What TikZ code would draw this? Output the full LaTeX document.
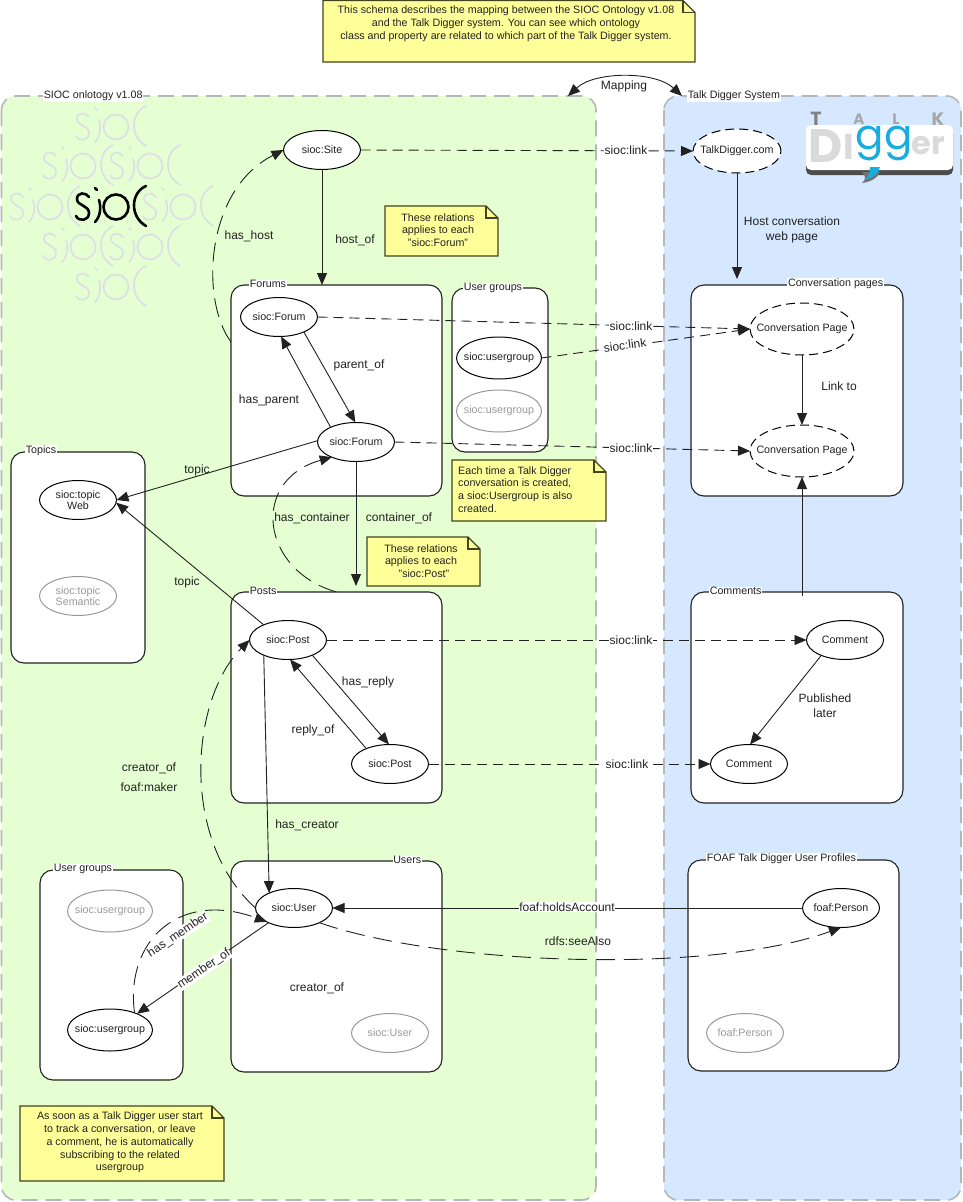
\documentclass[tikz,border=0pt]{standalone}
\usepackage{fontspec}
\setmainfont{Liberation Sans}
\newfontfamily\logofont{Poppins}
\usetikzlibrary{arrows.meta,shapes.geometric,calc}
\definecolor{panelgreen}{HTML}{E6FFD2}
\definecolor{panelblue}{HTML}{D5E8FF}
\definecolor{panelline}{HTML}{B4B8B8}
\definecolor{notefill}{HTML}{FFFF99}
\definecolor{ink}{HTML}{222222}
\definecolor{faint}{HTML}{999999}
\definecolor{markgray}{HTML}{DEDFE6}
\definecolor{loggray}{HTML}{DADADA}
\definecolor{logblue}{HTML}{19ACDF}
\tikzset{
  x=1pt,y=-1pt,
  panel/.style={draw=panelline,line width=1.6pt,dash pattern=on 16pt off 8pt,rounded corners=14pt},
  grp/.style={rectangle,draw=ink,line width=1.1pt,fill=white,rounded corners=13pt,inner sep=0pt,outer sep=0pt},
  title/.style={font=\fontsize{10.7pt}{12pt}\selectfont,text=ink,fill=white,inner sep=0.6pt},
  ell/.style={ellipse,draw=black,line width=1pt,fill=white,inner sep=-30pt,outer sep=0pt,
    minimum width=77pt,minimum height=39pt,font=\fontsize{10.7pt}{12pt}\selectfont,text=ink,align=center},
  ellwide/.style={ell,minimum width=85pt,minimum height=42pt},
  ellgray/.style={draw=faint,text=faint},
  ellbig/.style={dash pattern=on 9pt off 5pt},
  lbl/.style={font=\fontsize{12pt}{15pt}\selectfont,text=ink,inner sep=0.5pt,align=center},
  lblw/.style={lbl,fill=white},
  conn/.style={draw=ink,line width=0.9pt,-{Triangle[length=12pt,width=10pt]}},
  dconn/.style={conn,dash pattern=on 10pt off 6pt},
  curv/.style={conn,dash pattern=on 19pt off 9pt},
  notebg/.style={draw=ink!85!yellow,fill=notefill,line width=1.1pt,line join=miter},
  notetxt/.style={font=\fontsize{10.7pt}{12.8pt}\selectfont,text=ink,align=center,inner sep=0pt},
  siocmark/.pic={
    \draw[line cap=round] (-21,-10) .. controls (-24,-15) and (-33,-15) .. (-33,-8)
       .. controls (-33,-1) and (-21,-2) .. (-21,6)
       .. controls (-21,14) and (-31,15) .. (-34,9);
    \draw[line cap=round] (-15,-19) -- (-13,-17);
    \draw[line cap=round] (-11,-7) .. controls (-9,-1) and (-9,9) .. (-15,15);
    \draw (6,0) circle (12.5);
    \draw[line cap=round] (36,-21) .. controls (20,-14) and (20,10) .. (36,19);
  }
}
\newcommand{\notepath}[5]{% x1 y1 x2 y2 fold
  \draw[notebg] (#1,#2) -- ({#3-#5},#2) -- (#3,{#2+#5}) -- (#3,#4) -- (#1,#4) -- cycle;
  \draw[notebg,fill=none] ({#3-#5},#2) -- ({#3-#5},{#2+#5}) -- (#3,{#2+#5});
}
\begin{document}
\begin{tikzpicture}
\useasboundingbox (0,0) rectangle (962,1202);
\fill[white] (0,0) rectangle (962,1202);

% panels
\path[panel,fill=panelgreen] (1.5,96) rectangle (596,1200);
\path[panel,fill=panelblue] (664,96) rectangle (961,1200);

% SIOC mark
\begin{scope}[draw=markgray,line width=1.7pt]
  \foreach \dx/\dy in {0/-80,-33/-41,34/-41,-66/0,67/0,-33/40,34/40,0/80}
    \pic at ({110+\dx},{207+\dy}) {siocmark};
\end{scope}
\begin{scope}[draw=black,line width=2.6pt]
  \pic at (110,207) {siocmark};
\end{scope}

% Talk Digger logo
\fill[black!70] (806,128) [rounded corners=5pt] -- (953,128) -- (953,175) -- (806,175) -- cycle;
\fill[black!55] (862,172) -- (880,172) .. controls (878,178) and (870,182) .. (862,183) .. controls (866,180) and (866,176) .. (862,172);
\fill[white] (806,125) [rounded corners=5pt] -- (953,125) -- (953,170) -- (806,170) -- cycle;
\node[inner sep=0pt,text=black!50,font=\logofont\bfseries\fontsize{19pt}{19pt}\selectfont] (logoT) at (816,119) {T};
\node[inner sep=0pt,text=black!35,font=\logofont\bfseries\fontsize{15pt}{15pt}\selectfont] (logoA) at (859,119) {A};
\node[inner sep=0pt,text=black!35,font=\logofont\bfseries\fontsize{15pt}{15pt}\selectfont] (logoL) at (896,119) {L};
\node[inner sep=0pt,text=black!35,font=\logofont\bfseries\fontsize{18pt}{18pt}\selectfont] (logoK) at (938,119) {K};
\node[inner sep=0pt,text=loggray,font=\logofont\bfseries\fontsize{47pt}{47pt}\selectfont] (logoD) at (826,146) {D};
\node[inner sep=0pt,text=loggray,font=\logofont\bfseries\fontsize{36pt}{36pt}\selectfont] (logoI) at (849,147) {I};
\node[inner sep=0pt,text=logblue,font=\logofont\fontsize{42pt}{42pt}\selectfont] (logoG) at (884,143) {gg};
\node[inner sep=0pt,text=loggray,font=\logofont\bfseries\fontsize{32pt}{32pt}\selectfont] (logoR) at (928,146) {er};
\fill[logblue] (870,167) -- (880,167) .. controls (879,174) and (872,178) .. (865,180) .. controls (869,176) and (870,172) .. (870,167);

% groups
\node[grp,minimum width=211pt,minimum height=211pt] (forums) at (336.5,390.5) {};
\node[grp,minimum width=96pt,minimum height=164pt] (ugroupsA) at (500,370) {};
\node[grp,minimum width=211pt,minimum height=211pt] (posts) at (336.5,697.5) {};
\node[grp,minimum width=211pt,minimum height=211pt] (users) at (336.5,966.5) {};
\node[grp,minimum width=143pt,minimum height=210pt] (ugroupsB) at (111.5,975) {};
\node[grp,minimum width=134pt,minimum height=211pt] (topics) at (78,557.5) {};
\node[grp,minimum width=212pt,minimum height=211pt] (pages) at (797,390.5) {};
\node[grp,minimum width=212pt,minimum height=211pt] (comments) at (797,697.5) {};
\node[grp,minimum width=211pt,minimum height=211pt] (profiles) at (793.5,965.5) {};

% notes
\notepath{323}{0.5}{695}{62}{12}
\node[notetxt] (noteTop) at (506,24) {This schema describes the mapping between the SIOC Ontology v1.08\\and the Talk Digger system. You can see which ontology\\class and property are related to which part of the Talk Digger system.};
\notepath{385}{206}{498}{256}{12}
\node[notetxt] (noteForum) at (438,230) {These relations\\applies to each\\"sioc:Forum"};
\notepath{452}{460}{606}{521}{12}
\node[notetxt,align=left,anchor=west] (noteGroup) at (458,489.5) {Each time a Talk Digger\\conversation is created,\\a sioc:Usergroup is also\\created.};
\notepath{367}{537}{480}{586}{12}
\node[notetxt] (notePost) at (421,561) {These relations\\applies to each\\\ \ "sioc:Post"};
\notepath{20}{1106}{224}{1181}{12}
\node[notetxt] (noteUser) at (120,1142.5) {As soon as a Talk Digger user start\\to track a conversation, or leave\\a comment, he is automatically\\subscribing to the related\\usergroup};

% ellipses
\node[ell] (site) at (322,150) {sioc:Site};
\node[ell,ellbig,minimum width=88pt,minimum height=44pt] (talk) at (737,151) {TalkDigger.com};
\node[ell] (forumA) at (279,317) {sioc:Forum};
\node[ell] (forumB) at (356,442) {sioc:Forum};
\node[ellwide] (groupA) at (499,358) {sioc:usergroup};
\node[ellwide,ellgray] (groupAg) at (499,411) {sioc:usergroup};
\node[ell,ellbig,minimum width=104pt,minimum height=52pt] (pageA) at (802,329) {Conversation Page};
\node[ell,ellbig,minimum width=104pt,minimum height=52pt] (pageB) at (802,451) {Conversation Page};
\node[ell,font=\fontsize{10.7pt}{9.5pt}\selectfont] (topicW) at (78,500) {sioc:topic\\Web};
\node[ell,ellgray,font=\fontsize{10.7pt}{9.5pt}\selectfont] (topicS) at (78,596) {sioc:topic\\Semantic};
\node[ell] (postA) at (288,640) {sioc:Post};
\node[ell] (postB) at (390,764) {sioc:Post};
\node[ell] (commentA) at (845,640) {Comment};
\node[ell] (commentB) at (749,764) {Comment};
\node[ell] (person) at (841,908) {foaf:Person};
\node[ell,ellgray] (personG) at (745,1033) {foaf:Person};
\node[ell] (user) at (294,908) {sioc:User};
\node[ell,ellgray] (userG) at (390,1033) {sioc:User};
\node[ellwide,ellgray] (groupBg) at (110,911) {sioc:usergroup};
\node[ellwide] (groupB) at (110,1030) {sioc:usergroup};

% solid connectors
\path[conn] (site.south) -- (site.south |- forums.north);
\path[conn,shorten >=6pt] (talk.south) -- (talk.south |- pages.north);
\path[conn] (forumA.-31) -- (forumB.92);
\path[conn] (forumB.150) -- (forumA.-84);
\path[conn] (forumB.178) -- (topicW.east);
\path[conn] (postA.148) -- (topicW.-4);
\path[conn,shorten >=6pt] (forumB.south) -- (forumB.south |- posts.north);
\path[conn] (postA.-32.6) -- (postB.93);
\path[conn] (postB.147) -- (postA.-84);
\path[conn] (postA.212) -- (user.149);
\path[conn] (user.210) -- (groupB.31);
\path[conn] (person.west) -- (user.east);
\path[conn] (pageA.south) -- (pageB.north);
\path[conn,shorten <=-4pt] (pageB.south |- comments.north) -- (pageB.south);
\path[conn] (commentA.213) -- (commentB.87);

% dashed straight connectors
\path[dconn] (site.east) -- (talk.west);
\path[dconn] (forumA.east) -- (pageA.west);
\path[dconn] (groupA.east) -- (pageA.west);
\path[dconn] (forumB.east) -- (pageB.west);
\path[dconn] (postA.east) -- (commentA.west);
\path[dconn] (postB.east) -- (commentB.west);

% dashed curves
\coordinate (hostStart) at (231,342);
\path[curv] (hostStart) .. controls (200,300) and (205,190) .. (site.west);
\path[curv] (posts.north) .. controls (260,570) and (250,480) .. (forumB.212);
\path[curv] (user.west) .. controls (180,840) and (190,700) .. (postA.west);
\path[curv] (user.-30) .. controls (440,965) and (710,975) .. (person.south);
\path[curv] (groupB.35) .. controls (125,940) and (180,890) .. (user.207);

% mapping
\coordinate (mapL) at (568,96);
\coordinate (mapR) at (682,96);
\path[draw=ink,line width=0.9pt,{Triangle[length=12pt,width=10pt]}-{Triangle[length=12pt,width=10pt]}] (mapL) .. controls (595,71) and (655,71) .. (mapR);

% titles
\node[title,anchor=west] (tSioc) at (43,96) {SIOC onlotogy v1.08};
\node[title,anchor=west] (tTalk) at (687,96) {Talk Digger System};
\node[title,anchor=west] (tForums) at (249,284) {Forums};
\node[title,anchor=west] (tGroupA) at (463,288) {User groups};
\node[title,anchor=west] (tPosts) at (249,591) {Posts};
\node[title,anchor=east] (tUsers) at (422,860) {Users};
\node[title,anchor=west] (tGroupB) at (53,869) {User groups};
\node[title,anchor=west] (tTopics) at (25,451) {Topics};
\node[title,anchor=east] (tPages) at (884,284) {Conversation pages};
\node[title,anchor=west] (tComments) at (709,591) {Comments};
\node[title,anchor=west] (tProfiles) at (706,859) {FOAF Talk Digger User Profiles};

% labels
\node[lbl] (lMap) at (624,86) {Mapping};
\node[lblw] (lLink1) at (626,150) {sioc:link};
\node[lblw] (lLink2) at (631,326) {sioc:link};
\node[lblw,rotate=8] (lLink3) at (625,345) {sioc:link};
\node[lblw] (lLink4) at (631,448) {sioc:link};
\node[lblw] (lLink5) at (631,640) {sioc:link};
\node[lblw] (lLink6) at (627,764) {sioc:link};
\node[lbl] (lHostOf) at (355,240) {host\_of};
\node[lbl] (lHasHost) at (249,236) {has\_host};
\node[lbl] (lParentOf) at (359,365) {parent\_of};
\node[lbl] (lHasParent) at (269,400) {has\_parent};
\node[lbl] (lTopicA) at (197,470) {topic};
\node[lbl] (lTopicB) at (187,582) {topic};
\node[lbl] (lContainer) at (312,518) {has\_container};
\node[lbl] (lContainerOf) at (399,518) {container\_of};
\node[lbl] (lHasReply) at (368,682) {has\_reply};
\node[lbl] (lReplyOf) at (313,730) {reply\_of};
\node[lbl] (lHasCreator) at (307,825) {has\_creator};
\node[lbl] (lCreatorA) at (149,768) {creator\_of};
\node[lbl] (lMaker) at (149,787) {foaf:maker};
\node[lbl] (lCreatorB) at (317,988) {creator\_of};
\node[lblw] (lHolds) at (567,907) {foaf:holdsAccount};
\node[lbl] (lSeeAlso) at (578,941) {rdfs:seeAlso};
\node[lblw,rotate=34] (lMember) at (204,969) {member\_of};
\node[lblw,rotate=34] (lHasMember) at (178,935) {has\_member};
\node[lbl] (lHostConv) at (792,230) {Host conversation\\web page};
\node[lbl] (lLinkTo) at (839,386) {Link to};
\node[lbl] (lLater) at (825,706) {Published\\later};
\end{tikzpicture}
\end{document}
